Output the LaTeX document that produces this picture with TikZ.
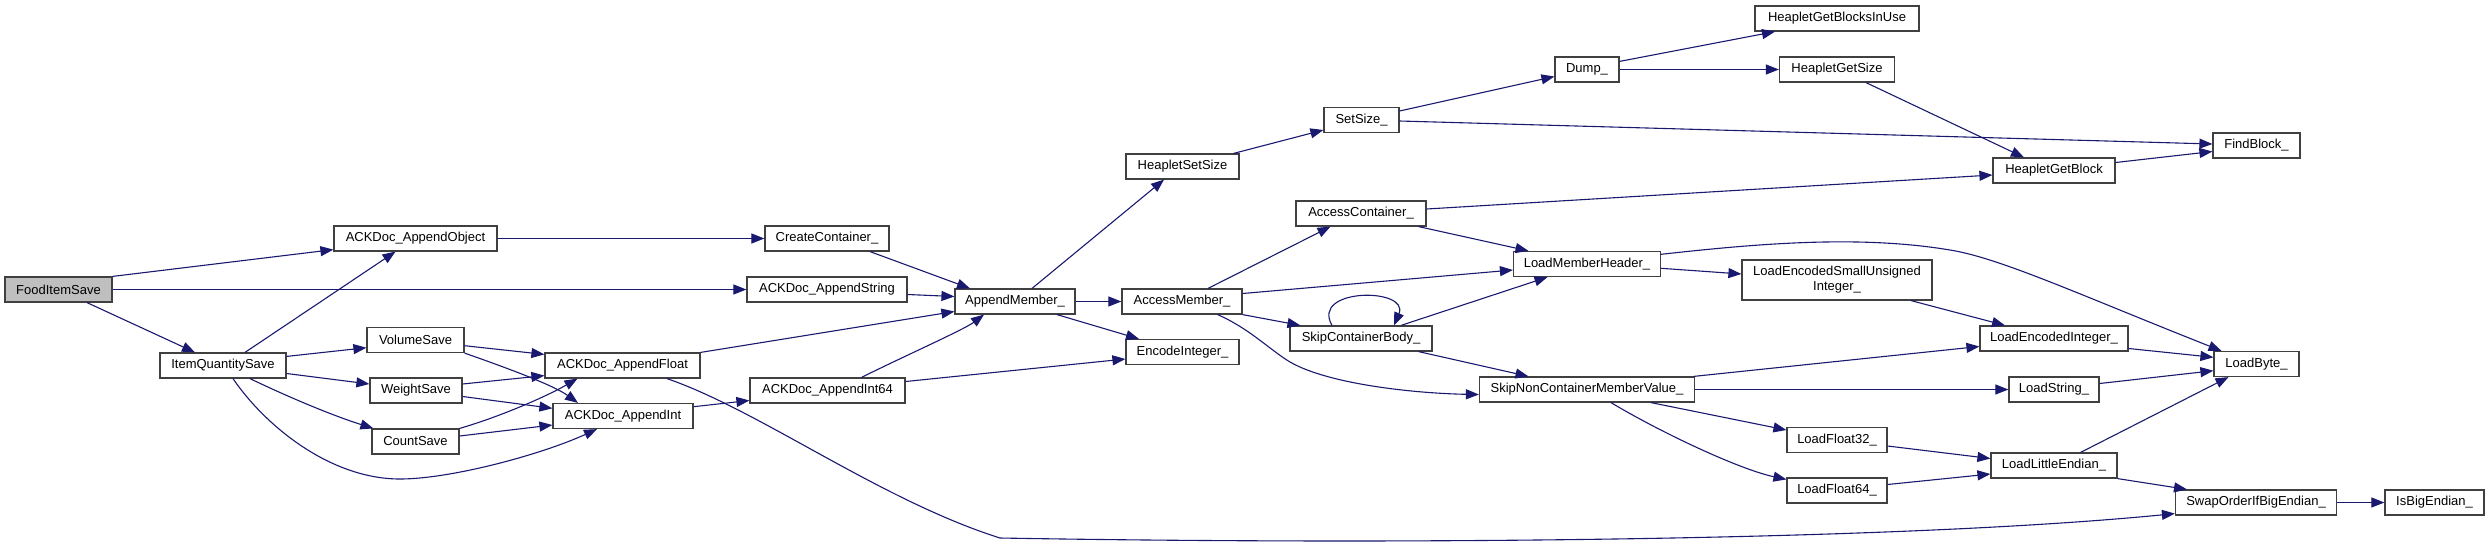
\documentclass[tikz,border=0pt]{standalone}
\usepackage{fontspec}
\setmainfont{Liberation Sans}
\usetikzlibrary{arrows.meta,calc}
\definecolor{edgeblue}{HTML}{191970}
\definecolor{nodeborder}{HTML}{404040}
\definecolor{rootfill}{HTML}{BFBFBF}
\begin{document}
\begin{tikzpicture}[x=0.5pt,y=-0.5pt,
  box/.style={draw=nodeborder,line width=0.6pt,fill=white,rectangle,inner sep=0pt,
    minimum height=12.5pt,font=\fontsize{6.5}{7.5}\selectfont,text=black},
  root/.style={box,fill=rootfill},
  edge/.style={draw=edgeblue,line width=0.55pt,-{Triangle[length=6.5pt,width=5pt]}}]
\useasboundingbox (0,0) rectangle (2489,547);
% nodes
\node[root,minimum width=53.5pt] (food) at (58.5,289.5) {FoodItemSave};
\node[box,minimum width=81.5pt] (obj) at (415.5,238.5) {ACKDoc\_AppendObject};
\node[box,minimum width=63pt] (iqs) at (223,365.5) {ItemQuantitySave};
\node[box,minimum width=48.5pt] (vol) at (415.5,340) {VolumeSave};
\node[box,minimum width=46pt] (weight) at (416,390.5) {WeightSave};
\node[box,minimum width=43.5pt] (count) at (415.5,441.5) {CountSave};
\node[box,minimum width=62pt] (create) at (827,238.5) {CreateContainer\_};
\node[box,minimum width=80pt] (astr) at (827,289.5) {ACKDoc\_AppendString};
\node[box,minimum width=77.5pt] (afloat) at (622.5,365.5) {ACKDoc\_AppendFloat};
\node[box,minimum width=70pt] (aint) at (623,416) {ACKDoc\_AppendInt};
\node[box,minimum width=77.5pt] (aint64) at (827.5,390.5) {ACKDoc\_AppendInt64};
\node[box,minimum width=60pt] (appm) at (1015,301.5) {AppendMember\_};
\node[box,minimum width=60pt] (accm) at (1182,301.5) {AccessMember\_};
\node[box,minimum width=56.5pt] (hss) at (1182.5,166.5) {HeapletSetSize};
\node[box,minimum width=56.5pt] (enc) at (1182.5,352) {EncodeInteger\_};
\node[box,minimum width=37.5pt] (setsize) at (1361.5,120) {SetSize\_};
\node[box,minimum width=65pt] (accc) at (1361,213.5) {AccessContainer\_};
\node[box,minimum width=71pt] (scb) at (1361,338.5) {SkipContainerBody\_};
\node[box,minimum width=107.5pt] (sncmv) at (1587,389.5) {SkipNonContainerMemberValue\_};
\node[box,minimum width=32pt] (dump) at (1587,69.5) {Dump\_};
\node[box,minimum width=73.5pt] (lmh) at (1587,264) {LoadMemberHeader\_};
\node[box,minimum width=82pt] (gbiu) at (1837,18.5) {HeapletGetBlocksInUse};
\node[box,minimum width=57.5pt] (gsize) at (1837,69.5) {HeapletGetSize};
\node[box,minimum width=95pt,minimum height=20pt,align=center] (lesui) at (1837,280) {LoadEncodedSmallUnsigned\\Integer\_};
\node[box,minimum width=50pt] (lf32) at (1837,440) {LoadFloat32\_};
\node[box,minimum width=50pt] (lf64) at (1837,490.5) {LoadFloat64\_};
\node[box,minimum width=61pt] (gblock) at (2054,170.5) {HeapletGetBlock};
\node[box,minimum width=74pt] (lei) at (2054,338.5) {LoadEncodedInteger\_};
\node[box,minimum width=45pt] (lstr) at (2054,389.5) {LoadString\_};
\node[box,minimum width=63pt] (lle) at (2054,465.5) {LoadLittleEndian\_};
\node[box,minimum width=43.5pt] (findb) at (2256.5,145.5) {FindBlock\_};
\node[box,minimum width=42.5pt] (lbyte) at (2256.5,364) {LoadByte\_};
\node[box,minimum width=80.5pt] (swap) at (2256,502.5) {SwapOrderIfBigEndian\_};
\node[box,minimum width=49.5pt] (isbig) at (2434.5,502.5) {IsBigEndian\_};
% waypoints
\coordinate (bendA) at (400,479);
\coordinate (bendB) at (1000,538);
\coordinate (bendC) at (1290,362);
\coordinate (bendD) at (1950,250);
% edges
\draw[edge] (food.north east) -- ($(obj.south west)+(0,-2)$);
\draw[edge] (food) -- (astr);
\draw[edge] ($(food.south)+(28.5,0)$) -- ($(iqs.north)+(-28,0)$);
\draw[edge] (obj) -- (create);
\draw[edge] ($(iqs.north)+(22,0)$) -- ($(obj.south)+(-20,0)$);
\draw[edge] ($(iqs.north east)+(0,4)$) -- ($(vol.west)+(0,7.7)$);
\draw[edge] ($(iqs.east)+(0,8)$) -- ($(weight.west)+(0,-6.5)$);
\draw[edge] ($(iqs.south)+(27,0)$) .. controls +(50,24) and +(-32,-10) .. ($(count.north west)+(2,0)$);
\draw[edge] ($(iqs.south)+(10,0)$) .. controls +(32,47) and +(-70,0) .. (bendA) .. controls +(50,0) and +(-57,26) .. ($(aint.south)+(-26,0)$);
\draw[edge] ($(vol.east)+(0,5.7)$) -- ($(afloat.north west)+(0,2)$);
\draw[edge] (vol.south east) .. controls +(40,14) and +(-25,-18) .. ($(aint.north)+(-45,0)$);
\draw[edge] ($(weight.east)+(0,-6.5)$) -- ($(afloat.south west)+(0,-3)$);
\draw[edge] ($(weight.east)+(0,6)$) -- ($(aint.west)+(0,-7.7)$);
\draw[edge] (count.north east) .. controls +(35,-10) and +(-35,20) .. ($(afloat.south)+(-45,0)$);
\draw[edge] ($(count.east)+(0,-5.5)$) -- ($(aint.west)+(0,9)$);
\draw[edge] ($(create.south)+(43,0)$) -- ($(appm.north)+(-45,0)$);
\draw[edge] ($(astr.east)+(0,5)$) -- ($(appm.west)+(0,-5)$);
\draw[edge] (afloat.north east) -- ($(appm.west)+(0,10)$);
\draw[edge] ($(afloat.south)+(44.5,0)$) .. controls +(93,32) and +(-120,-38) .. (bendB) .. controls +(400,7) and +(-275,27) .. ($(swap.south west)+(0,-2)$);
\draw[edge] ($(aint.east)+(0,-9.3)$) -- ($(aint64.west)+(0,10)$);
\draw[edge] ($(aint64.north)+(34,0)$) .. controls +(40,-20) and +(-20,15) .. ($(appm.south)+(-31,0)$);
\draw[edge] ($(aint64.east)+(0,-9)$) -- ($(enc.west)+(0,7)$);
\draw[edge] ($(appm.north)+(17,0)$) -- ($(hss.south)+(-18.5,0)$);
\draw[edge] (appm) -- (accm);
\draw[edge] ($(appm.south)+(42,0)$) -- ($(enc.north)+(-43.5,0)$);
\draw[edge] ($(hss.north east)+(-6,0)$) -- ($(setsize.west)+(0,10)$);
\draw[edge] ($(setsize.east)+(0,-9)$) -- ($(dump.west)+(0,7)$);
\draw[edge] ($(setsize.east)+(0,1)$) -- ($(findb.west)+(0,-1.5)$);
\draw[edge] ($(dump.north east)+(0,5)$) -- ($(gbiu.south)+(-62,0)$);
\draw[edge] (dump) -- (gsize);
\draw[edge] ($(gsize.south)+(29,0)$) -- ($(gblock.north)+(-30,0)$);
\draw[edge] ($(gblock.east)+(0,-8)$) -- ($(findb.west)+(0,6)$);
\draw[edge] ($(accm.north)+(26,0)$) -- ($(accc.south)+(-30.5,0)$);
\draw[edge] ($(accm.east)+(0,-8)$) -- ($(lmh.west)+(0,6)$);
\draw[edge] (accm.south east) -- ($(scb.north west)+(11,0)$);
\draw[edge] ($(accm.south)+(35.6,0)$) .. controls +(32,14) and +(-20,-12) .. (bendC) .. controls +(40,23) and +(-60,-1) .. ($(sncmv.west)+(0,5)$);
\draw[edge] ($(accc.east)+(0,-4.5)$) -- ($(gblock.west)+(0,4.5)$);
\draw[edge] ($(accc.south)+(57.6,0)$) -- ($(lmh.north)+(-58.5,0)$);
\draw[edge] ($(scb.north)+(-29,0)$) .. controls +(-22,-38) and +(16,-38) .. ($(scb.north)+(33,0)$);
\draw[edge] ($(scb.north)+(40,0)$) -- ($(lmh.south)+(-39.5,0)$);
\draw[edge] ($(scb.south)+(57.6,0)$) -- ($(sncmv.north)+(-58.5,0)$);
\draw[edge] ($(lmh.east)+(0,-9.7)$) .. controls +(99,-11) and +(-90,-15) .. (bendD) .. controls +(50,8) and +(-141.5,-56) .. ($(lbyte.north)+(-35,0)$);
\draw[edge] ($(lmh.east)+(0,4.3)$) -- ($(lesui.west)+(0,-6)$);
\draw[edge] ($(lesui.south)+(74,0)$) -- ($(lei.north)+(-49,0)$);
\draw[edge] ($(sncmv.north east)+(-1.5,0)$) -- ($(lei.west)+(0,8)$);
\draw[edge] (sncmv) -- (lstr);
\draw[edge] ($(sncmv.south)+(64,0)$) -- ($(lf32.west)+(0,-10)$);
\draw[edge] ($(sncmv.south)+(24,0)$) .. controls +(50,30) and +(-47,-10) .. ($(lf64.north west)+(0,2)$);
\draw[edge] ($(lei.east)+(0,10)$) -- ($(lbyte.west)+(0,-6.7)$);
\draw[edge] ($(lstr.east)+(0,-6)$) -- ($(lbyte.west)+(0,6.7)$);
\draw[edge] ($(lf32.east)+(0,6)$) -- ($(lle.west)+(0,-7)$);
\draw[edge] ($(lf64.east)+(0,-6)$) -- ($(lle.west)+(0,8.5)$);
\draw[edge] ($(lle.north)+(26.6,0)$) -- ($(lbyte.south)+(-28,0)$);
\draw[edge] (lle.south east) -- ($(swap.north)+(-69,0)$);
\draw[edge] (swap) -- (isbig);
\end{tikzpicture}
\end{document}
